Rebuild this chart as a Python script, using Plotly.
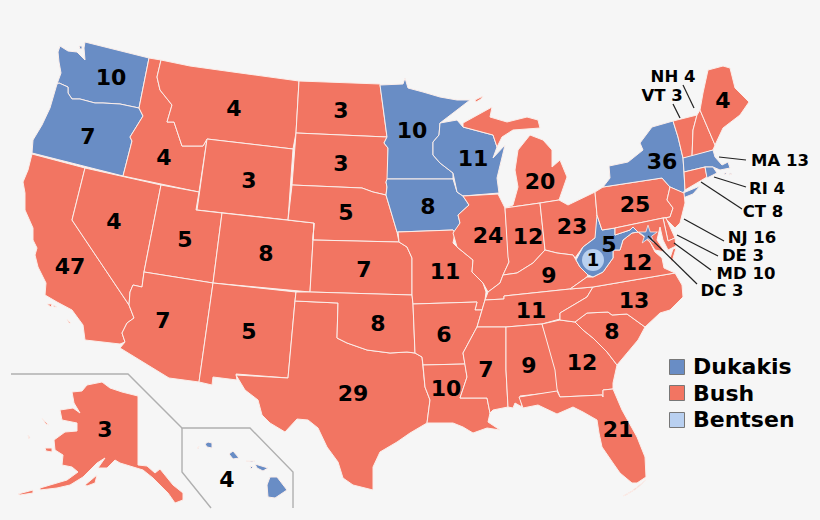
# 1988 electoral map, state outlines (image pixels)
import plotly.graph_objects as go

BLUE = '#698dc5'
RED = '#f27562'
LIGHT = '#b9d0f0'
FONT = 'DejaVu Sans'

STATES = ['WA','OR','CA','NV','ID','MT','WY','UT','CO','AZ','NM','TX','ND','SD','NE','KS','OK',
          'MN','IA','MO','AR','LA','WI','IL','MI','IN','OH','KY','TN','MS','AL','GA','FL','SC','NC',
          'VA','WV','PA','NY','VT','NH','ME','MA','CT','RI','NJ','DE','MD','DC','AK','HI']
DUKAKIS_STATES = ['WA','OR','MN','IA','WI','WV','NY','MA','RI','DC','HI']

# votes written on the map itself
MAP_STATES = ['WA','OR','CA','NV','ID','MT','WY','UT','CO','AZ','NM','ND','SD','NE','KS','OK','TX',
              'MN','IA','MO','AR','LA','WI','IL','MI','IN','OH','KY','TN','MS','AL','GA','FL','SC',
              'NC','VA','WV','PA','NY','ME','AK','HI']
MAP_VOTES = [10,7,47,4,4,4,3,5,8,7,5,3,3,5,7,8,29,10,8,11,6,10,11,24,20,12,23,9,11,7,9,12,21,8,13,12,5,25,36,4,3,4]
MAP_X = [111,88,70,114,164,234,249,185,266,163,249,341,341,346,364,378,353,412,428,445,444,446,473,488,
         540,528,572,549,531,486,529,582,618,612,634,637,609,635,662,723,105,227]
MAP_Y = [79,138,268,223,159,110,182,241,255,322,333,112,165,214,271,325,395,132,208,273,336,390,160,237,
         183,238,228,277,312,371,367,364,431,333,302,264,246,206,163,102,431,481]

# small states labelled off to the side
SIDE_STATES = ['NH','VT','MA','RI','CT','NJ','DE','MD','DC']
SIDE_VOTES = [4,3,13,4,8,16,3,10,3]
SIDE_X = [673,662,780,767,763,752,743,746,722]
SIDE_Y = [78,97,162,190,213,239,257,275,292]
LEADER_X = [[683,694],[673,680],[719,746],[714,746],[701,742],[684,724],[677,718],[674,711],[648,697]]
LEADER_Y = [[85,108],[104,118],[157,160],[177,187],[182,209],[219,241],[235,256],[243,270],[236,284]]

BENTSEN_VOTES = 1
LEGEND_NAMES = ['Dukakis','Bush','Bentsen']
LEGEND_COLORS = [BLUE, RED, LIGHT]

OUTLINES = {
 'WA': [[(85,42),(149,58),(139,108),(120,104),(103,103),(95,103),(80,99),(72,99),(68,93),(68,87),(59,83),(57,84),(61,73),(59,62),(58,52),(60,46),(68,51),(77,52),(81,56),(85,60),(84,48)],
        [(79,46),(82,46),(82,49),(80,49)]],
 'OR': [[(59,83),(68,87),(68,93),(72,99),(80,99),(95,103),(103,103),(120,104),(139,108),(143,116),(130,137),(132,141),(123,176),(32,153),(33,140),(42,125),(50,108),(57,84)]],
 'CA': [[(32,154),(85,168),(72,220),(129,305),(134,318),(127,323),(122,333),(125,342),(120,344),(85,340),(83,325),(72,310),(57,302),(45,295),(46,283),(38,267),(35,255),(37,248),(33,240),(33,228),(25,210),(25,193),(23,182),(28,170)],
        [(47,304),(52,304),(51,307)],[(53,305),(57,307),(54,307)],[(67,319),(71,323),(69,323)]],
 'NV': [[(85,168),(161,185),(144,272),(142,287),(133,285),(130,292),(129,305),(72,220)]],
 'ID': [[(149,58),(161,60),(157,77),(160,90),(172,105),(167,122),(174,122),(182,146),(203,146),(205,142),(207,139),(199,192),(123,176),(132,141),(130,137),(143,116),(139,108)]],
 'MT': [[(161,60),(190,66),(233,72),(299,81),(296,133),(293,149),(207,139),(205,142),(203,146),(182,146),(174,122),(167,122),(172,105),(160,90),(157,77)]],
 'WY': [[(207,139),(293,149),(288,220),(197,210)]],
 'UT': [[(161,185),(199,192),(196,210),(222,213),(213,283),(144,272)]],
 'CO': [[(222,213),(288,220),(314,223),(310,292),(213,283)]],
 'AZ': [[(144,272),(213,283),(199,382),(169,378),(120,348),(125,342),(122,333),(127,323),(134,318),(129,305),(130,292),(133,285),(142,287)]],
 'NM': [[(213,283),(296,292),(295,301),(288,378),(236,374),(237,380),(213,377),(212,385),(199,382)]],
 'TX': [[(295,301),(338,303),(337,338),(347,343),(367,350),(390,353),(407,352),(415,353),(422,357),(423,365),(425,387),(430,400),(427,423),(410,433),(397,442),(380,452),(373,467),(373,490),(353,485),(343,478),(338,462),(327,447),(318,428),(308,420),(297,419),(285,432),(270,423),(262,415),(258,400),(245,390),(236,375),(288,378)]],
 'ND': [[(299,81),(380,84),(383,107),(386,132),(387,137),(296,133)]],
 'SD': [[(296,133),(387,137),(384,143),(388,148),(388,179),(386,182),(387,187),(386,195),(373,192),(362,188),(292,185)]],
 'NE': [[(292,185),(362,188),(373,192),(386,195),(392,215),(397,232),(399,242),(313,240),(314,223),(288,220)]],
 'KS': [[(313,240),(399,242),(407,247),(412,258),(412,295),(310,292),(314,223)]],
 'OK': [[(296,292),(310,292),(412,295),(413,304),(415,353),(407,352),(390,353),(367,350),(347,343),(337,338),(338,303),(295,301)]],
 'MN': [[(380,85),(403,84),(405,78),(408,88),(423,92),(440,97),(457,100),(470,100),(457,110),(440,123),(439,135),(433,142),(433,155),(440,163),(453,173),(453,179),(387,179),(388,148),(384,143),(387,137),(383,107)]],
 'IA': [[(386,182),(387,179),(453,179),(457,192),(463,196),(469,205),(458,215),(460,223),(455,233),(453,230),(397,232),(392,215),(386,195),(387,187)]],
 'MO': [[(398,232),(453,230),(455,233),(453,243),(457,247),(473,260),(472,272),(483,283),(486,292),(485,300),(482,310),(475,310),(477,302),(413,304),(412,295),(412,258),(407,247),(399,242)]],
 'AR': [[(413,304),(477,302),(475,310),(482,310),(477,327),(470,340),(463,353),(465,364),(423,365),(422,357),(415,353)]],
 'LA': [[(423,365),(465,364),(467,377),(460,398),(487,398),(490,413),(488,422),(500,430),(487,428),(473,433),(463,427),(453,423),(427,423),(430,400),(425,387)]],
 'WI': [[(440,123),(457,120),(463,127),(493,135),(497,147),(493,158),(505,145),(500,165),(497,178),(499,193),(463,196),(457,192),(453,173),(440,163),(433,155),(433,142),(439,135)]],
 'IL': [[(463,196),(498,194),(505,208),(508,257),(509,262),(503,275),(500,283),(488,292),(483,283),(472,272),(473,260),(457,247),(453,233),(460,223),(458,215),(469,205)]],
 'MI': [[(463,123),(483,112),(492,107),(490,117),(507,122),(527,117),(538,120),(540,128),(513,130),(502,137),(497,147),(493,135),(463,127)],
        [(505,208),(513,205),(518,187),(515,170),(518,150),(530,135),(543,140),(552,150),(552,167),(560,160),(567,177),(559,200),(540,203)],
        [(475,100),(483,96),(481,99),(476,102)]],
 'IN': [[(505,208),(540,203),(545,250),(533,263),(517,273),(503,275),(509,262),(508,257)]],
 'OH': [[(540,203),(559,200),(568,205),(583,198),(595,192),(597,215),(602,230),(595,238),(583,247),(575,258),(573,255),(557,253),(545,250)]],
 'KY': [[(488,292),(500,283),(503,275),(517,273),(533,263),(545,250),(557,253),(573,255),(576,260),(580,267),(588,275),(587,277),(570,289),(504,296),(504,299),(485,300)]],
 'TN': [[(477,327),(482,310),(485,300),(504,299),(504,296),(570,289),(593,287),(587,297),(570,307),(560,313),(560,319),(542,324),(506,327)]],
 'MS': [[(477,327),(506,327),(506,370),(508,407),(493,410),(490,413),(487,398),(460,398),(467,377),(465,364),(463,353),(470,340)]],
 'AL': [[(506,327),(542,324),(557,370),(558,392),(520,396),(522,407),(515,403),(513,408),(508,407),(506,370)]],
 'GA': [[(542,324),(560,320),(575,322),(583,330),(593,338),(607,352),(617,365),(613,383),(613,389),(603,390),(603,397),(602,395),(560,397),(557,389),(555,370)]],
 'FL': [[(519,397),(557,391),(560,397),(602,395),(603,397),(603,390),(613,389),(622,410),(637,437),(645,457),(646,477),(637,483),(632,483),(620,473),(613,463),(602,447),(599,433),(597,420),(583,412),(573,407),(557,414),(538,405),(523,408)],
        [(623,496),(632,491),(646,480),(636,489),(626,495)]],
 'SC': [[(575,322),(587,313),(608,312),(612,315),(627,314),(645,327),(638,340),(627,353),(617,365),(607,352),(593,338),(583,330)]],
 'NC': [[(675,273),(593,287),(587,297),(570,307),(560,313),(560,320),(575,322),(587,313),(608,312),(612,315),(627,314),(645,327),(650,322),(660,313),(670,310),(683,297),(682,285)]],
 'VA': [[(570,289),(587,277),(593,277),(603,272),(613,258),(613,250),(620,250),(623,240),(632,233),(638,232),(642,235),(650,242),(655,252),(662,258),(664,268),(675,273),(593,287)],
        [(676,248),(672,262),(670,258),(673,249)]],
 'WV': [[(597,215),(602,230),(615,228),(615,235),(630,230),(633,227),(638,232),(632,233),(623,240),(620,250),(613,250),(613,258),(603,272),(593,277),(588,275),(580,267),(576,260),(583,247),(595,238)]],
 'PA': [[(595,192),(603,187),(662,178),(670,187),(667,200),(673,208),(670,217),(663,218),(615,228),(602,230),(597,215)]],
 'NY': [[(603,187),(610,178),(609,166),(628,162),(643,150),(640,143),(652,127),(673,121),(678,137),(683,158),(684,172),(685,190),(683,193),(700,186),(693,194),(683,198),(681,192),(670,187),(662,178)]],
 'VT': [[(673,121),(697,115),(693,130),(692,157),(683,158),(678,137)]],
 'NH': [[(697,115),(700,110),(715,145),(713,150),(692,157),(693,130)]],
 'ME': [[(700,110),(703,93),(708,70),(723,66),(730,68),(735,88),(749,102),(740,115),(723,128),(715,145)]],
 'MA': [[(683,158),(713,150),(715,157),(722,165),(728,162),(730,168),(720,170),(713,167),(705,167),(684,172)],[(724,173),(727,173),(725,175)],[(730,173),(732,174),(729,175)]],
 'CT': [[(684,172),(705,167),(707,177),(685,190)]],
 'RI': [[(705,167),(713,167),(717,173),(707,178)]],
 'NJ': [[(670,187),(684,193),(685,203),(680,223),(675,228),(665,218),(670,217),(673,208),(667,200)]],
 'DE': [[(663,218),(666,218),(675,238),(668,241)]],
 'MD': [[(615,228),(663,218),(668,241),(675,238),(676,246),(668,250),(663,240),(660,227),(657,240),(665,252),(655,250),(650,242),(642,235),(638,232),(633,227),(630,230),(615,235)]],
 'AK': [[(72,392),(82,391),(87,385),(102,382),(110,388),(122,392),(138,396),(138,465),(147,466),(155,473),(160,469),(173,485),(183,493),(183,500),(175,503),(168,493),(160,485),(153,478),(143,470),(120,463),(115,460),(107,468),(98,468),(105,458),(97,463),(83,477),(70,485),(57,488),(40,490),(40,488),(67,480),(78,472),(72,467),(62,465),(63,455),(55,450),(54,440),(65,432),(77,431),(77,423),(62,420),(60,410),(73,408),(80,413),(74,403)],
        [(18,494),(33,490),(33,493),(20,495)],[(85,485),(97,475),(95,483),(87,486)],[(45,448),(52,448),(52,452),(46,451)],[(42,418),(49,425),(46,424)],[(28,435),(30,438),(29,439)]],
 'HI': [[(267,485),(270,477),(277,477),(287,490),(275,498),(268,497)],[(255,464),(268,468),(263,471),(257,468)],[(246,461),(255,461),(252,462)],[(250,466),(253,467),(251,469)],[(229,454),(233,451),(239,458),(233,459)],[(205,444),(208,442),(212,443),(212,448),(207,447)],[(197,448),(199,446),(198,449)]],
 'DC': [],
}

INSET_X = [[11,128,182,250,293,293],[182,182,211]]
INSET_Y = [[374,374,428,428,472,508],[428,472,508]]


def flat(rings):
    xs = []; ys = []
    for r in rings:
        xs += [p[0] for p in r] + [r[0][0], None]
        ys += [p[1] for p in r] + [r[0][1], None]
    return xs, ys


fig = go.Figure()
for s in STATES:
    if not OUTLINES[s]:
        continue
    xs, ys = flat(OUTLINES[s])
    fig.add_trace(go.Scatter(x=xs, y=ys, mode='lines', fill='toself', name=s,
                             fillcolor=BLUE if s in DUKAKIS_STATES else RED,
                             line=dict(color='#fbeeea', width=1), hoverinfo='skip'))

# inset frames
for xs, ys in zip(INSET_X, INSET_Y):
    fig.add_trace(go.Scatter(x=xs, y=ys, mode='lines', line=dict(color='#b0b0b0', width=1.4), hoverinfo='skip'))

# DC star and the Bentsen elector in WV
fig.add_trace(go.Scatter(x=[648], y=[235], mode='markers', hoverinfo='skip',
                         marker=dict(symbol='star', size=14, color=BLUE, line=dict(color='#fbeeea', width=0.8))))
fig.add_trace(go.Scatter(x=[593], y=[260], mode='markers', hoverinfo='skip', marker=dict(size=22, color=LIGHT)))
fig.add_trace(go.Scatter(x=[593], y=[261], mode='text', text=[str(BENTSEN_VOTES)], hoverinfo='skip',
                         textfont=dict(family=FONT, size=18, color='black', weight=700)))

# leader lines
lx = []; ly = []
for a, b in zip(LEADER_X, LEADER_Y):
    lx += a + [None]
    ly += b + [None]
fig.add_trace(go.Scatter(x=lx, y=ly, mode='lines', line=dict(color='#222222', width=1.2), hoverinfo='skip'))

fig.add_trace(go.Scatter(x=MAP_X, y=MAP_Y, mode='text', text=[str(v) for v in MAP_VOTES], hoverinfo='skip',
                         textfont=dict(family=FONT, size=22, color='black', weight=700)))
fig.add_trace(go.Scatter(x=SIDE_X, y=SIDE_Y, mode='text', hoverinfo='skip',
                         text=[s + ' ' + str(v) for s, v in zip(SIDE_STATES, SIDE_VOTES)],
                         textfont=dict(family=FONT, size=16.5, color='black', weight=700)))

# legend, drawn by hand so it can sit in the corner of the map
fig.add_trace(go.Scatter(x=[677, 677, 677], y=[367, 393, 420], mode='markers', hoverinfo='skip',
                         marker=dict(symbol='square', size=15, color=LEGEND_COLORS, line=dict(color='#777777', width=1))))
fig.add_trace(go.Scatter(x=[693, 693, 693], y=[368, 395, 421], mode='text', hoverinfo='skip',
                         text=LEGEND_NAMES, textposition='middle right',
                         textfont=dict(family=FONT, size=22, color='black', weight=700)))

fig.update_layout(width=820, height=520, margin=dict(l=0, r=0, t=0, b=0), showlegend=False,
                  paper_bgcolor='#f6f6f6', plot_bgcolor='#f6f6f6')
fig.update_xaxes(range=[0, 820], visible=False, fixedrange=True)
fig.update_yaxes(range=[520, 0], visible=False, fixedrange=True)
fig.write_html("out.html", config=dict(displayModeBar=False),
               post_script="document.body.style.margin='0';document.body.style.overflow='hidden';")
